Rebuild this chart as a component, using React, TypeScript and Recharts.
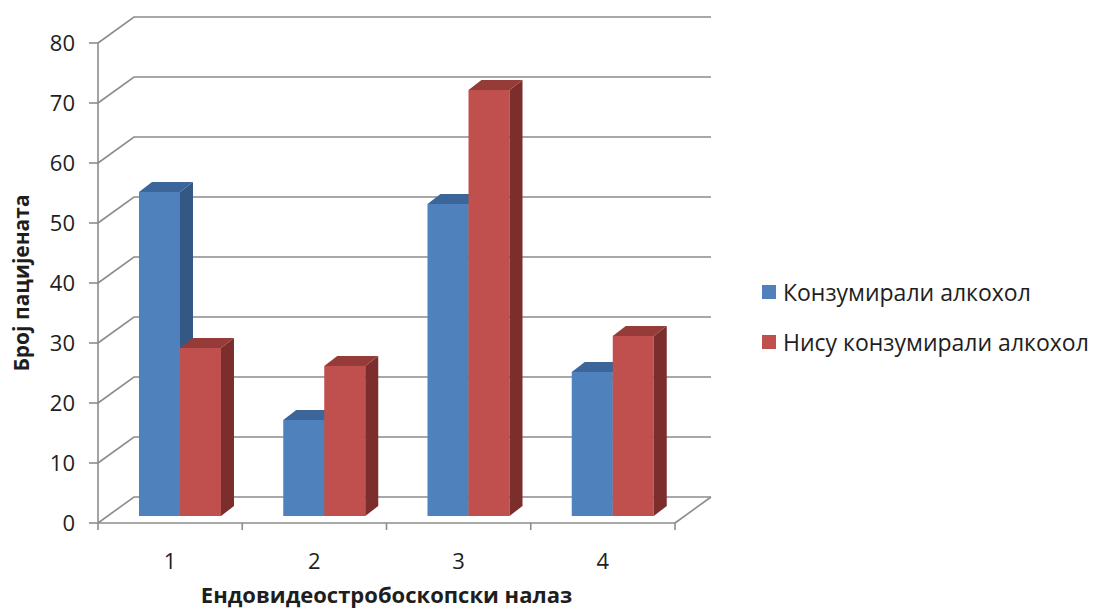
import { Bar, BarChart, CartesianGrid, Legend, XAxis, YAxis } from "recharts"

// Findings per group, two patient groups
const categories = ["1", "2", "3", "4"]
const consumed = [54, 16, 52, 24]
const notConsumed = [28, 25, 71, 30]
const yTicks = [0, 10, 20, 30, 40, 50, 60, 70, 80]

const seriesNames = ["Конзумирали алкохол", "Нису конзумирали алкохол"]

const data = categories.map((name, i) => ({
  name,
  consumed: consumed[i],
  notConsumed: notConsumed[i],
}))

const FONT = "'Open Sans', 'Noto Sans', sans-serif"
const GRID = "#8c8c8c"
const TEXT = "#1e1e1e"

// perspective of the back wall / floor
const WALL_X = 36
const WALL_Y = 26
// where the column front faces sit inside the floor depth
const SHIFT_X = 10
const SHIFT_Y = 7
// depth of a single column
const COL_X = 13
const COL_Y = 10

const BLUE = { front: "#4f81bd", top: "#3c659a", side: "#335884" }
const RED = { front: "#c0504d", top: "#953b38", side: "#7b2e2c" }

function Column(props: any) {
  const { x, y, width, height, colors } = props
  if (!height || height <= 0) return null
  const fx = x + SHIFT_X
  const fy = y - SHIFT_Y
  const bottom = fy + height
  const top = `M${fx},${fy} L${fx + COL_X},${fy - COL_Y} L${fx + width + COL_X},${fy - COL_Y} L${fx + width},${fy} Z`
  const side = `M${fx + width},${fy} L${fx + width + COL_X},${fy - COL_Y} L${fx + width + COL_X},${bottom - COL_Y} L${fx + width},${bottom} Z`
  return (
    <g>
      <rect x={fx} y={fy} width={width} height={height} fill={colors.front} />
      <path d={side} fill={colors.side} />
      <path d={top} fill={colors.top} />
    </g>
  )
}

// each horizontal grid line runs up the left wall and across the back wall
function WallLine(p: any) {
  const { x1, y1, x2 } = p
  const d = `M${x1},${y1} L${x1 + WALL_X},${y1 - WALL_Y} L${x2 + WALL_X},${y1 - WALL_Y}`
  return <path key={`wall-${y1}`} d={d} fill="none" stroke={GRID} strokeWidth={1.6} />
}

function CategoryTick(p: any) {
  const { x, y, payload, index, visibleTicksCount } = p
  const half = payload?.offset || 72
  const last = index === visibleTicksCount - 1
  return (
    <g>
      <line x1={x - half} y1={y} x2={x - half} y2={y + 7} stroke={GRID} strokeWidth={1.6} />
      {last && (
        <>
          <line x1={x + half} y1={y} x2={x + half} y2={y + 7} stroke={GRID} strokeWidth={1.6} />
          <line x1={x + half} y1={y} x2={x + half + WALL_X} y2={y - WALL_Y} stroke={GRID} strokeWidth={1.6} />
        </>
      )}
      <text x={x} y={y + 37} textAnchor="middle" dominantBaseline="central" fontFamily={FONT} fontSize={22} fill={TEXT}>
        {payload.value}
      </text>
    </g>
  )
}

function XTitle(p: any) {
  const { x, y, width } = p.viewBox
  return (
    <text x={x + width / 2} y={y + 71} textAnchor="middle" dominantBaseline="central" fontFamily={FONT} fontSize={22} fontWeight="bold" fill={TEXT}>
      Ендовидеостробоскопски налаз
    </text>
  )
}

function YTitle(p: any) {
  const { x, y, height } = p.viewBox
  const cx = x + 13
  const cy = y + height / 2
  return (
    <text x={cx} y={cy} transform={`rotate(-90, ${cx}, ${cy})`} textAnchor="middle" dominantBaseline="central" fontFamily={FONT} fontSize={21} fontWeight="bold" fill={TEXT}>
      Број пацијената
    </text>
  )
}

function LegendList(p: any) {
  const items = p.payload || []
  return (
    <div style={{ display: "flex", flexDirection: "column", gap: 20 }}>
      {items.map((e: any) => (
        <div key={e.value} style={{ display: "flex", alignItems: "center", height: 30 }}>
          <span style={{ width: 14, height: 14, background: e.color, marginRight: 7, display: "inline-block" }} />
          <span style={{ fontFamily: FONT, fontSize: 23, color: TEXT, whiteSpace: "nowrap" }}>{e.value}</span>
        </div>
      ))}
    </div>
  )
}

export default function App() {
  return (
    <div style={{ position: "absolute", left: 0, top: 0, background: "#fff" }}>
      <BarChart width={1098} height={610} data={data} margin={{ top: 43, right: 423, bottom: 7, left: 8 }} barGap={0} barSize={41}>
        <CartesianGrid vertical={false} horizontal={WallLine} />
        <XAxis
          dataKey="name"
          height={80}
          tickLine={false}
          tickSize={0}
          tickMargin={0}
          axisLine={{ stroke: GRID, strokeWidth: 1.6 }}
          tick={<CategoryTick />}
          interval={0}
          label={{ content: XTitle }}
        />
        <YAxis
          width={90}
          domain={[0, 80]}
          ticks={yTicks}
          interval={0}
          tickSize={9}
          tickMargin={14}
          axisLine={{ stroke: GRID, strokeWidth: 1.6 }}
          tickLine={{ stroke: GRID, strokeWidth: 1.6 }}
          tick={{ fontFamily: FONT, fontSize: 22, fill: TEXT }}
          label={{ content: YTitle }}
        />
        <Legend
          layout="horizontal"
          verticalAlign="middle"
          align="center"
          content={<LegendList />}
          wrapperStyle={{ left: 762, top: 277, width: 336 }}
        />
        <Bar dataKey="consumed" name={seriesNames[0]} fill={BLUE.front} isAnimationActive={false} shape={(p: any) => <Column {...p} colors={BLUE} />} />
        <Bar dataKey="notConsumed" name={seriesNames[1]} fill={RED.front} isAnimationActive={false} shape={(p: any) => <Column {...p} colors={RED} />} />
      </BarChart>
    </div>
  )
}
